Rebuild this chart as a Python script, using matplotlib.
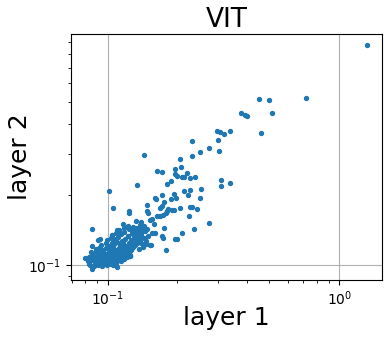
# -*- coding: utf-8 -*-
"""
Scatter of per-sample values, layer 1 vs layer 2 (VIT), log-log axes.
Values read off the reference picture.
"""

import matplotlib
matplotlib.use("Agg")
import matplotlib.pyplot as plt


# =============================================================================
# Data
# =============================================================================

# tail of the distribution (clearly separated points)
tail_layer1 = [
    1.32, 0.718, 0.452, 0.499, 0.514, 0.378, 0.393, 0.401, 0.461, 0.298,
    0.306, 0.319, 0.339, 0.301, 0.232, 0.275, 0.303, 0.251, 0.232, 0.143,
    0.206, 0.196, 0.208, 0.164, 0.172, 0.196, 0.200, 0.221, 0.210, 0.213,
    0.228, 0.239, 0.188, 0.181, 0.310, 0.310, 0.339, 0.134, 0.1017, 0.254,
    0.228, 0.214, 0.223, 0.194, 0.171, 0.198, 0.251, 0.162, 0.160, 0.187,
    0.176, 0.148, 0.105, 0.171, 0.169, 0.183, 0.190, 0.193, 0.228, 0.232,
    0.244, 0.206, 0.124, 0.124, 0.148, 0.150, 0.181, 0.179, 0.174, 0.169,
    0.164, 0.225, 0.133, 0.140, 0.152, 0.155, 0.159, 0.138, 0.275, 0.237,
    0.176, 0.0859, 0.210, 0.156, 0.161, 0.141, 0.145, 0.148, 0.172, 0.174,
    0.196, 0.199, 0.179, 0.143, 0.152, 0.154, 0.147, 0.110, 0.0859, 0.080,
]
tail_layer2 = [
    0.874, 0.519, 0.513, 0.508, 0.448, 0.448, 0.438, 0.435, 0.367, 0.374,
    0.371, 0.364, 0.374, 0.343, 0.340, 0.317, 0.308, 0.305, 0.293, 0.296,
    0.284, 0.258, 0.263, 0.252, 0.250, 0.245, 0.242, 0.248, 0.238, 0.238,
    0.236, 0.238, 0.229, 0.222, 0.231, 0.218, 0.224, 0.221, 0.207, 0.211,
    0.209, 0.207, 0.1995, 0.201, 0.1995, 0.194, 0.194, 0.192, 0.194, 0.192,
    0.186, 0.181, 0.175, 0.179, 0.175, 0.174, 0.173, 0.173, 0.177, 0.177,
    0.174, 0.176, 0.170, 0.167, 0.170, 0.167, 0.170, 0.167, 0.164, 0.162,
    0.162, 0.163, 0.154, 0.153, 0.156, 0.158, 0.150, 0.149, 0.152, 0.143,
    0.144, 0.143, 0.137, 0.138, 0.137, 0.143, 0.140, 0.143, 0.133, 0.131,
    0.129, 0.129, 0.116, 0.123, 0.122, 0.122, 0.123, 0.0987, 0.0961, 0.107,
]

# loose points around the dense core
edge_layer1 = [
    0.128, 0.132, 0.136, 0.140, 0.144, 0.135, 0.139, 0.131, 0.126, 0.142,
    0.137, 0.120, 0.125, 0.118, 0.114, 0.146, 0.150, 0.122, 0.116, 0.129,
    0.133, 0.083, 0.0845, 0.0911, 0.093, 0.0859, 0.104, 0.1094, 0.112, 0.114,
    0.125, 0.121, 0.128, 0.134, 0.138,
]
edge_layer2 = [
    0.141, 0.145, 0.139, 0.135, 0.131, 0.128, 0.125, 0.122, 0.119, 0.120,
    0.117, 0.113, 0.111, 0.106, 0.104, 0.127, 0.133, 0.147, 0.150, 0.136,
    0.132, 0.101, 0.114, 0.128, 0.129, 0.121, 0.135, 0.1416, 0.140, 0.107,
    0.109, 0.114, 0.118, 0.124, 0.129,
]

# dense core near (0.1, 0.1)
core_layer1 = [
    0.084, 0.087, 0.089, 0.091, 0.093, 0.095, 0.097, 0.099, 0.101, 0.103, 0.106, 0.109,
    0.082, 0.085, 0.088, 0.090, 0.092, 0.094, 0.096, 0.098, 0.100, 0.102, 0.104, 0.107,
    0.110, 0.113, 0.116,
    0.083, 0.086, 0.088, 0.090, 0.093, 0.095, 0.097, 0.099, 0.101, 0.104, 0.106, 0.109,
    0.112, 0.115, 0.118, 0.121, 0.125,
    0.086, 0.089, 0.091, 0.094, 0.096, 0.098, 0.101, 0.103, 0.106, 0.108, 0.111, 0.114,
    0.117, 0.121, 0.124,
    0.089, 0.092, 0.095, 0.098, 0.100, 0.103, 0.106, 0.109, 0.112, 0.115, 0.118, 0.122,
    0.126, 0.129,
    0.094, 0.098, 0.101, 0.104, 0.107, 0.110, 0.113, 0.117, 0.120, 0.124, 0.128, 0.132,
    0.099, 0.103, 0.107, 0.111, 0.115, 0.119, 0.122, 0.126, 0.130, 0.134, 0.138,
    0.104, 0.109, 0.114, 0.118, 0.123, 0.127, 0.131, 0.135, 0.140,
    0.112, 0.118, 0.124, 0.129, 0.134, 0.138, 0.143,
]
core_layer2 = [
    0.100, 0.099, 0.101, 0.100, 0.102, 0.099, 0.101, 0.100, 0.102, 0.101, 0.100, 0.102,
    0.104, 0.105, 0.103, 0.106, 0.104, 0.105, 0.103, 0.106, 0.104, 0.105, 0.103, 0.106,
    0.104, 0.105, 0.106,
    0.108, 0.109, 0.107, 0.110, 0.108, 0.109, 0.107, 0.110, 0.108, 0.109, 0.107, 0.110,
    0.108, 0.109, 0.110, 0.108, 0.110,
    0.112, 0.114, 0.113, 0.111, 0.115, 0.112, 0.114, 0.113, 0.111, 0.115, 0.112, 0.114,
    0.113, 0.115, 0.112,
    0.117, 0.119, 0.116, 0.118, 0.120, 0.117, 0.119, 0.116, 0.118, 0.120, 0.117, 0.119,
    0.116, 0.120,
    0.122, 0.124, 0.121, 0.125, 0.123, 0.126, 0.122, 0.124, 0.121, 0.125, 0.123, 0.126,
    0.128, 0.131, 0.129, 0.132, 0.127, 0.130, 0.133, 0.128, 0.131, 0.129, 0.132,
    0.135, 0.138, 0.136, 0.139, 0.134, 0.137, 0.140, 0.135, 0.138,
    0.142, 0.145, 0.143, 0.146, 0.141, 0.144, 0.147,
]

layer1 = core_layer1 + edge_layer1 + tail_layer1
layer2 = core_layer2 + edge_layer2 + tail_layer2


# =============================================================================
# Figure
# =============================================================================

fig = plt.figure(figsize=(3.89, 3.41), dpi=100)
ax = fig.add_axes([0.1825, 0.179, 0.7995, 0.7215])

ax.scatter(layer1, layer2, s=8, color="C0", zorder=3)

ax.set_xscale("log")
ax.set_yscale("log")
ax.set_xlim(0.0695, 1.53)
ax.set_ylim(0.0865, 0.976)

ax.grid(True, which="major", zorder=0)
ax.set_axisbelow(True)

ax.set_title("VIT", fontsize=19, pad=5)
ax.set_xlabel("layer 1", fontsize=18)
ax.set_ylabel("layer 2", fontsize=18)
ax.xaxis.set_label_coords(0.5, -0.105)
ax.yaxis.set_label_coords(-0.125, 0.5)

fig.savefig("out.png", dpi=100)
plt.close(fig)
